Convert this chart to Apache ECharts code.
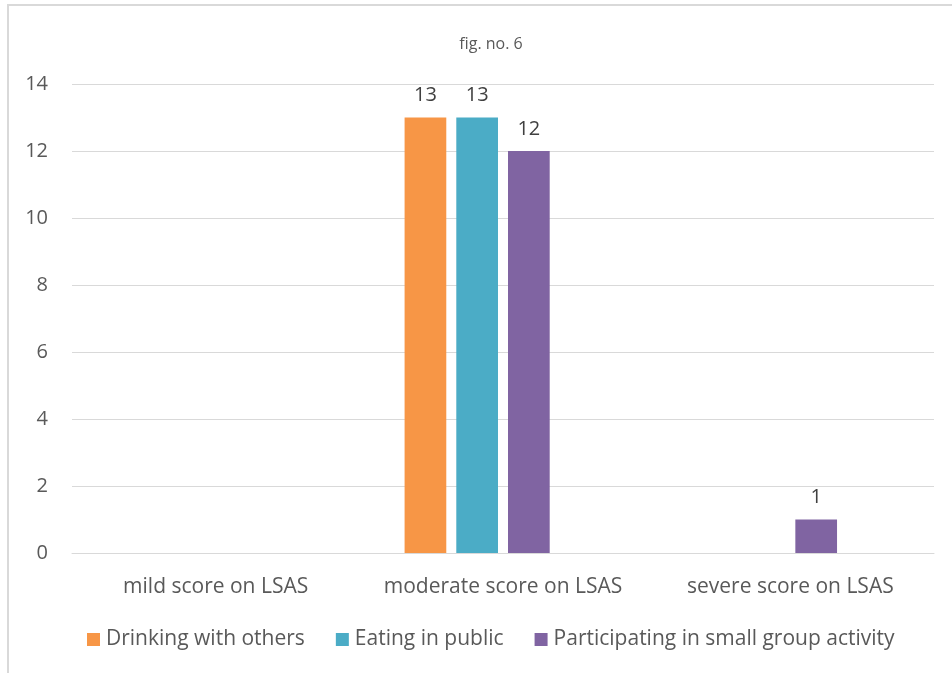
<!DOCTYPE html>
<html>
<head>
<meta charset="utf-8">
<script src="https://cdn.jsdelivr.net/npm/echarts@6/dist/echarts.min.js"></script>
<style>
  html, body { margin: 0; padding: 0; background: #ffffff; }
  #chart { width: 952px; height: 673px; }
</style>
</head>
<body>
<div id="chart"></div>
<script>
// Severity groups on the Liebowitz Social Anxiety Scale
const categories = ['mild score on LSAS', 'moderate score on LSAS', 'severe score on LSAS'];

// Number of respondents per situation (empty cells left as null)
const drinkingWithOthers = [null, 13, null];
const eatingInPublic = [null, 13, null];
const smallGroupActivity = [null, 12, 1];
// Fourth column of the source table has no entries but still takes a slot
const unusedColumn = [null, null, null];

const yTicks = { min: 0, max: 14, interval: 2 };
const titleText = 'fig. no. 6';

const FONT = '"Open Sans", "Noto Sans", sans-serif';
const labelStyle = {
  show: true,
  position: 'top',
  distance: 12,
  color: '#404040',
  fontFamily: FONT,
  fontSize: 20
};

function barSeries(name, data, color) {
  return {
    name: name,
    type: 'bar',
    data: data,
    barGap: '24%',
    barCategoryGap: '31.5%',
    itemStyle: { color: color },
    label: labelStyle,
    emphasis: { disabled: true }
  };
}

const chart = echarts.init(document.getElementById('chart'), null, { renderer: 'canvas' });
chart.setOption({
  backgroundColor: '#ffffff',
  animation: false,
  title: {
    text: titleText,
    left: 486,
    top: 31,
    textAlign: 'center',
    textStyle: { color: '#595959', fontFamily: FONT, fontSize: 16, fontWeight: 'normal' }
  },
  graphic: [{
    type: 'rect',
    shape: { x: 8, y: 5, width: 1100, height: 1100 },
    style: { fill: 'none', stroke: '#d9d9d9', lineWidth: 2 },
    silent: true
  }],
  legend: {
    data: ['Drinking with others', 'Eating in public', 'Participating in small group activity'],
    left: 82,
    top: 624,
    icon: 'rect',
    itemWidth: 13,
    itemHeight: 13,
    itemGap: 31,
    textStyle: { color: '#595959', fontFamily: FONT, fontSize: 21, padding: [0, 0, 0, 1] }
  },
  grid: { left: 72, right: 18, top: 84, bottom: 120, containLabel: false },
  xAxis: {
    type: 'category',
    data: categories,
    axisLine: { show: true, lineStyle: { color: '#d9d9d9', width: 1 } },
    axisTick: { show: false },
    axisLabel: { interval: 0, color: '#595959', fontFamily: FONT, fontSize: 21, margin: 24 }
  },
  yAxis: {
    type: 'value',
    min: yTicks.min,
    max: yTicks.max,
    interval: yTicks.interval,
    axisLine: { show: false },
    axisTick: { show: false },
    splitLine: { lineStyle: { color: '#d9d9d9', width: 1 } },
    axisLabel: { color: '#595959', fontFamily: FONT, fontSize: 20, margin: 24 }
  },
  series: [
    barSeries('Drinking with others', drinkingWithOthers, '#f79646'),
    barSeries('Eating in public', eatingInPublic, '#4bacc6'),
    barSeries('Participating in small group activity', smallGroupActivity, '#8064a2'),
    barSeries('(blank)', unusedColumn, '#9bbb59')
  ]
});
</script>
</body>
</html>
